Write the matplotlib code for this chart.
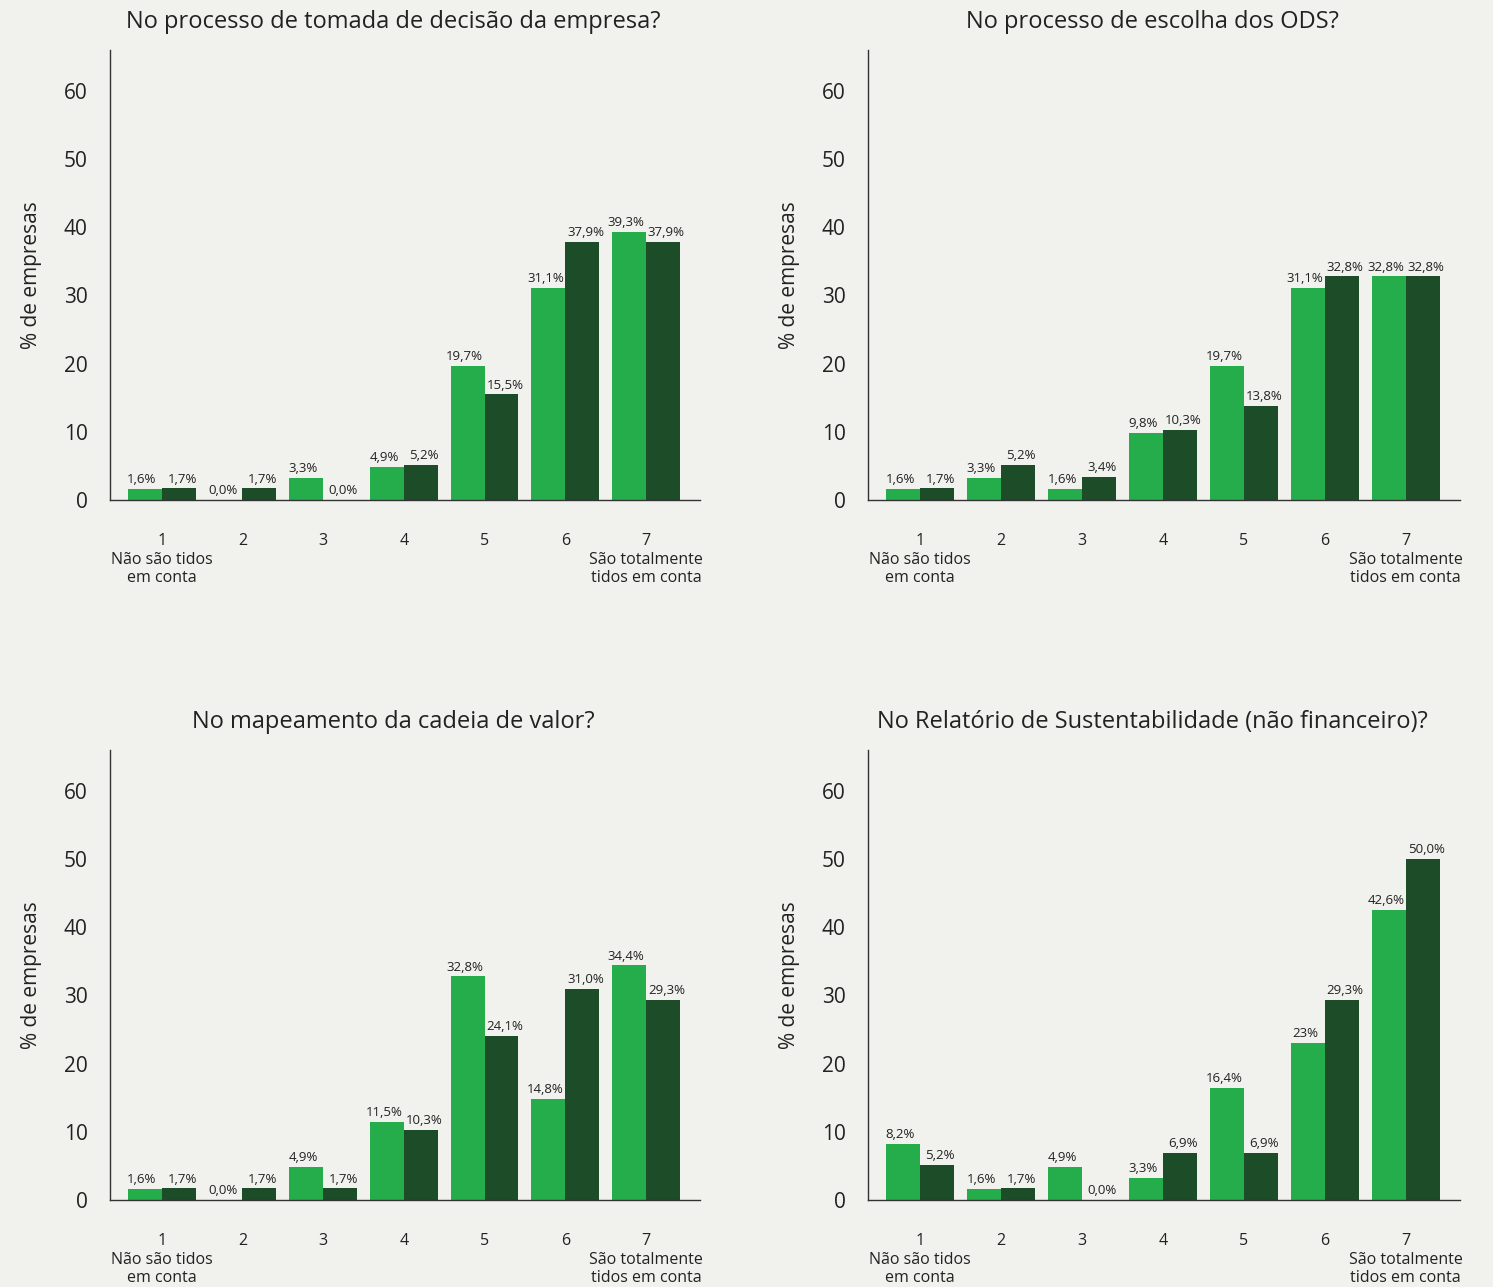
import matplotlib.pyplot as plt
import numpy as np

plt.rcParams['font.family'] = ['Open Sans', 'DejaVu Sans']

# data
titles = [
    "No processo de tomada de decisão da empresa?",
    "No processo de escolha dos ODS?",
    "No mapeamento da cadeia de valor?",
    "No Relatório de Sustentabilidade (não financeiro)?",
]
categories = ["1\nNão são tidos\nem conta", "2", "3", "4", "5", "6",
              "7\nSão totalmente\ntidos em conta"]

light_vals = [
    [1.6, 0.0, 3.3, 4.9, 19.7, 31.1, 39.3],
    [1.6, 3.3, 1.6, 9.8, 19.7, 31.1, 32.8],
    [1.6, 0.0, 4.9, 11.5, 32.8, 14.8, 34.4],
    [8.2, 1.6, 4.9, 3.3, 16.4, 23.0, 42.6],
]
dark_vals = [
    [1.7, 1.7, 0.0, 5.2, 15.5, 37.9, 37.9],
    [1.7, 5.2, 3.4, 10.3, 13.8, 32.8, 32.8],
    [1.7, 1.7, 1.7, 10.3, 24.1, 31.0, 29.3],
    [5.2, 1.7, 0.0, 6.9, 6.9, 29.3, 50.0],
]
light_labels = [
    ["1,6%", "0,0%", "3,3%", "4,9%", "19,7%", "31,1%", "39,3%"],
    ["1,6%", "3,3%", "1,6%", "9,8%", "19,7%", "31,1%", "32,8%"],
    ["1,6%", "0,0%", "4,9%", "11,5%", "32,8%", "14,8%", "34,4%"],
    ["8,2%", "1,6%", "4,9%", "3,3%", "16,4%", "23%", "42,6%"],
]
dark_labels = [
    ["1,7%", "1,7%", "0,0%", "5,2%", "15,5%", "37,9%", "37,9%"],
    ["1,7%", "5,2%", "3,4%", "10,3%", "13,8%", "32,8%", "32,8%"],
    ["1,7%", "1,7%", "1,7%", "10,3%", "24,1%", "31,0%", "29,3%"],
    ["5,2%", "1,7%", "0,0%", "6,9%", "6,9%", "29,3%", "50,0%"],
]

bg = "#F1F1EE"
lightColor = "#25AD4B"
darkColor = "#1C4D28"
textColor = "#222222"

fig = plt.figure(figsize=(14.93, 12.87), dpi=100, facecolor=bg)

W, H = 1493, 1287
boxes = [(110, 50, 700, 500), (868, 50, 1460, 500),
         (110, 750, 700, 1200), (868, 750, 1460, 1200)]

x = np.arange(1, 8)
w = 0.42

for i, (l, t, r, b) in enumerate(boxes):
    ax = fig.add_axes([l / W, (H - b) / H, (r - l) / W, (b - t) / H])
    ax.set_facecolor(bg)
    b1 = ax.bar(x - w / 2, light_vals[i], w, color=lightColor)
    b2 = ax.bar(x + w / 2, dark_vals[i], w, color=darkColor)
    anns1 = ax.bar_label(b1, labels=light_labels[i], padding=2, fontsize=9.5, color=textColor)
    anns2 = ax.bar_label(b2, labels=dark_labels[i], padding=2, fontsize=9.5, color=textColor)
    # nudge the two labels of a group apart a little
    for a in anns1:
        a.xyann = (-2, 2)
    for a in anns2:
        a.xyann = (2.5, 2)

    ax.set_xlim(0.36, 7.67)
    ax.set_ylim(0, 66)
    ax.set_yticks(range(0, 61, 10))
    ax.set_xticks(x)
    ax.set_xticklabels(categories, fontsize=11.5, color=textColor, linespacing=1.2)
    ax.tick_params(axis='x', length=0, pad=24)
    ax.tick_params(axis='y', length=0, pad=16, labelsize=15, labelcolor=textColor)
    ax.set_ylabel("% de empresas", fontsize=15, color=textColor, labelpad=16)
    ax.spines['top'].set_visible(False)
    ax.spines['right'].set_visible(False)
    for s in ['left', 'bottom']:
        ax.spines[s].set_color("#333333")
        ax.spines[s].set_linewidth(1.0)
    ax.set_title(titles[i], fontsize=17, color=textColor, pad=0, x=0.48, y=1.05)

fig.savefig("out.png", dpi=100, facecolor=bg)
